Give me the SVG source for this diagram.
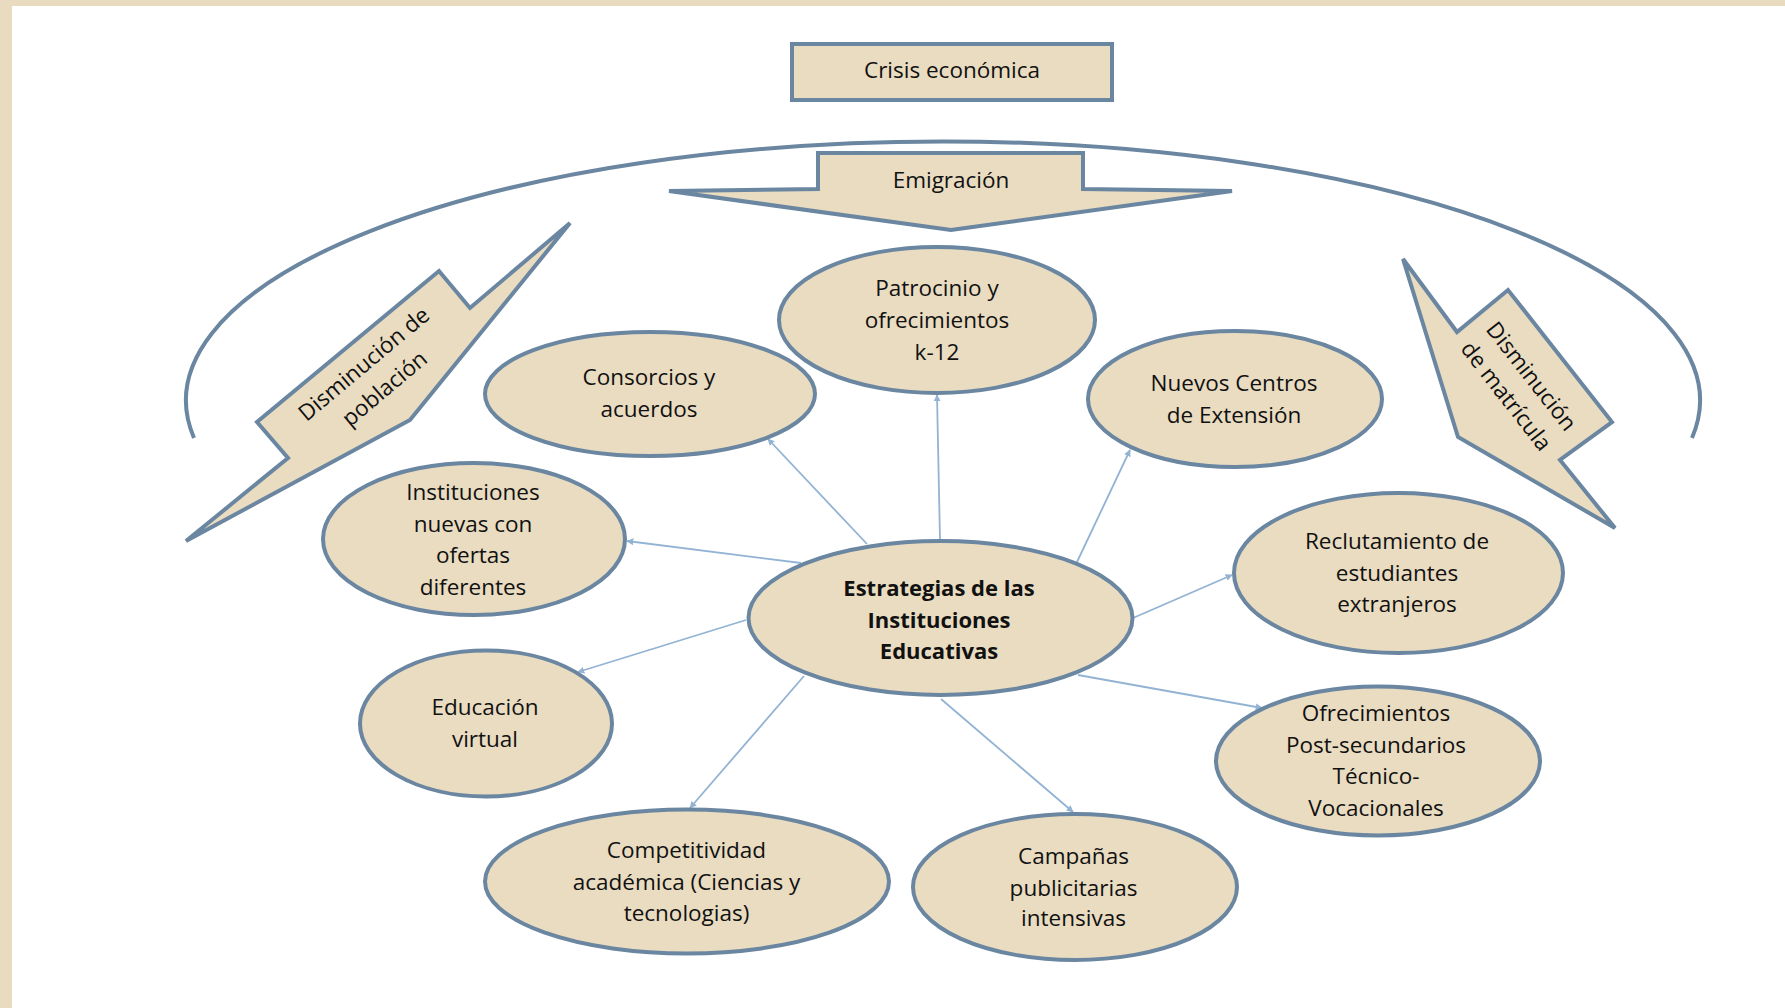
<svg xmlns="http://www.w3.org/2000/svg" width="1785" height="1008" viewBox="0 0 1785 1008">
<defs>
<style>
.shape{fill:#E9DCC1;stroke:#6A86A0;stroke-width:4;stroke-linejoin:miter}
.arc{fill:none;stroke:#6A86A0;stroke-width:4}
.conn{stroke:#93B3D4;stroke-width:1.8;fill:none;marker-end:url(#ah)}
.t{font-family:"Open Sans","DejaVu Sans",sans-serif;font-size:22.5px;fill:#111;text-anchor:middle}
.b{font-weight:bold;font-size:22px}
</style>
<marker id="ah" viewBox="0 0 10 10" refX="9" refY="5" markerWidth="7" markerHeight="7" markerUnits="userSpaceOnUse" orient="auto">
<path d="M0,0 L10,5 L0,10 z" fill="#93B3D4"/>
</marker>
</defs>
<rect x="0" y="0" width="1785" height="1008" fill="#ffffff"/>
<rect x="0" y="0" width="1785" height="6" fill="#E8DBC0"/>
<rect x="0" y="0" width="12" height="1008" fill="#E8DBC0"/>

<path class="arc" d="M194,438 A757,259 0 1 1 1692,438"/>

<g id="crisis">
<rect class="shape" x="792" y="44" width="320" height="56"/>
<text class="t" x="952" y="78">Crisis económica</text>
</g>

<g id="emigracion">
<polygon class="shape" points="818,153 1083,153 1083,189 1232,191 951,230 669,191 818,189"/>
<text class="t" x="951" y="188">Emigración</text>
</g>

<g id="poblacion">
<polygon class="shape" points="570,223 470,308 439,271 257,422 288,458 186,541 410,420"/>
<g transform="translate(374,376) rotate(-40)">
<text class="t" x="0" y="-8">Disminución de</text>
<text class="t" x="0" y="24">población</text>
</g>
</g>

<g id="matricula">
<polygon class="shape" points="1403,259 1457,332 1508,290 1612,422 1560,460 1615,528 1458,437"/>
<g transform="translate(1519,386) rotate(52)">
<text class="t" x="0" y="-8">Disminución</text>
<text class="t" x="0" y="24">de matrícula</text>
</g>
</g>

<g id="connectors">
<line class="conn" x1="940" y1="540" x2="937" y2="395"/>
<line class="conn" x1="867" y1="544" x2="768" y2="439"/>
<line class="conn" x1="1077" y1="562" x2="1130" y2="450"/>
<line class="conn" x1="801" y1="563" x2="627" y2="541"/>
<line class="conn" x1="1133" y1="618" x2="1232" y2="575"/>
<line class="conn" x1="746" y1="620" x2="578" y2="672"/>
<line class="conn" x1="1078" y1="675" x2="1262" y2="708"/>
<line class="conn" x1="804" y1="676" x2="690" y2="808"/>
<line class="conn" x1="941" y1="699" x2="1073" y2="812"/>
</g>

<g id="patrocinio">
<ellipse class="shape" cx="937" cy="320" rx="158" ry="73"/>
<text class="t" x="937" y="296">Patrocinio y</text>
<text class="t" x="937" y="328">ofrecimientos</text>
<text class="t" x="937" y="360">k-12</text>
</g>

<g id="consorcios">
<ellipse class="shape" cx="650" cy="394" rx="165" ry="62"/>
<text class="t" x="649" y="385">Consorcios y</text>
<text class="t" x="649" y="417">acuerdos</text>
</g>

<g id="nuevos">
<ellipse class="shape" cx="1235" cy="399" rx="147" ry="68"/>
<text class="t" x="1234" y="391">Nuevos Centros</text>
<text class="t" x="1234" y="423">de Extensión</text>
</g>

<g id="instituciones">
<ellipse class="shape" cx="474" cy="539" rx="151" ry="76"/>
<text class="t" x="473" y="500">Instituciones</text>
<text class="t" x="473" y="532">nuevas con</text>
<text class="t" x="473" y="563">ofertas</text>
<text class="t" x="473" y="595">diferentes</text>
</g>

<g id="estrategias">
<ellipse class="shape" cx="940.5" cy="618" rx="192" ry="77"/>
<text class="t b" x="939" y="596">Estrategias de las</text>
<text class="t b" x="939" y="628">Instituciones</text>
<text class="t b" x="939" y="659">Educativas</text>
</g>

<g id="reclutamiento">
<ellipse class="shape" cx="1398.5" cy="573" rx="164.5" ry="80"/>
<text class="t" x="1397" y="549">Reclutamiento de</text>
<text class="t" x="1397" y="581">estudiantes</text>
<text class="t" x="1397" y="612">extranjeros</text>
</g>

<g id="educacion">
<ellipse class="shape" cx="486" cy="723.5" rx="126" ry="73"/>
<text class="t" x="485" y="715">Educación</text>
<text class="t" x="485" y="747">virtual</text>
</g>

<g id="ofrecimientos">
<ellipse class="shape" cx="1378" cy="761" rx="162" ry="74.5"/>
<text class="t" x="1376" y="721">Ofrecimientos</text>
<text class="t" x="1376" y="753">Post-secundarios</text>
<text class="t" x="1376" y="784">Técnico-</text>
<text class="t" x="1376" y="816">Vocacionales</text>
</g>

<g id="competitividad">
<ellipse class="shape" cx="687" cy="881.5" rx="202" ry="72"/>
<text class="t" x="686.5" y="858">Competitividad</text>
<text class="t" x="686.5" y="890">académica (Ciencias y</text>
<text class="t" x="686.5" y="921">tecnologias)</text>
</g>

<g id="campanas">
<ellipse class="shape" cx="1075" cy="887" rx="162" ry="73"/>
<text class="t" x="1073.5" y="864">Campañas</text>
<text class="t" x="1073.5" y="896">publicitarias</text>
<text class="t" x="1073.5" y="926">intensivas</text>
</g>
</svg>
